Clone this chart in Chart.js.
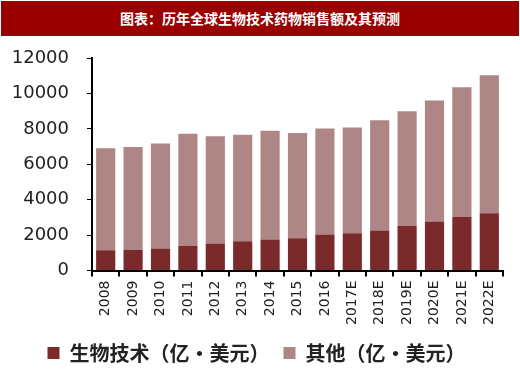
<!DOCTYPE html>
<html>
<head>
<meta charset="utf-8">
<script src="https://cdn.jsdelivr.net/npm/chart.js@4"></script>
<style>
  body { margin: 0; background: #fff; }
  .wrap { width: 520px; height: 375px; position: relative; }
  .title {
    position: absolute; left: 1px; top: 1px; width: 518px; height: 35px;
    background: #9a0000; color: #fff; text-align: center;
    font: bold 14px "Noto Sans CJK SC", sans-serif; line-height: 35px;
  }
  .box { position: absolute; left: 0; top: 36px; width: 520px; height: 339px; }
</style>
</head>
<body>
<div class="wrap">
  <div class="title">图表：历年全球生物技术药物销售额及其预测</div>
  <div class="box"><canvas id="bar"></canvas></div>
</div>
<script>
// years and values (亿美元)
const years = ['2008', '2009', '2010', '2011', '2012', '2013', '2014', '2015', '2016',
    '2017E', '2018E', '2019E', '2020E', '2021E', '2022E'];
const biotech = [1150, 1160, 1250, 1400, 1520, 1650, 1750, 1820, 2030, 2100, 2260, 2520, 2770, 3030, 3230];
const others = [5750, 5820, 5920, 6320, 6060, 6010, 6140, 5950, 5990, 5980, 6220, 6470, 6830, 7320, 7800];
const yTicks = [0, 2000, 4000, 6000, 8000, 10000, 12000];

const ctx = document.getElementById('bar');
new Chart(ctx, {
    type: 'bar',
    data: {
        labels: years,
        datasets: [{
            label: '生物技术（亿·美元）',
            data: biotech,
            backgroundColor: '#7a2a2b',
            barPercentage: 0.7,
            categoryPercentage: 1
        }, {
            label: '其他（亿·美元）',
            data: others,
            backgroundColor: '#ad8685',
            barPercentage: 0.7,
            categoryPercentage: 1
        }]
    },
    options: {
        responsive: true,
        maintainAspectRatio: false,
        animation: false,
        layout: { padding: { left: 10, right: 17, top: 2, bottom: 2 } },
        plugins: {
            tooltip: { enabled: false },
            legend: {
                position: 'bottom',
                labels: {
                    boxWidth: 12,
                    boxHeight: 12,
                    padding: 14,
                    color: '#222',
                    font: { family: '"Noto Sans CJK SC"', size: 20, weight: 'bold' }
                }
            }
        },
        scales: {
            x: {
                stacked: true,
                border: { color: '#000', width: 2 },
                grid: { drawOnChartArea: false, drawTicks: true, tickLength: 6, color: '#000', lineWidth: 2 },
                ticks: {
                    minRotation: 90, maxRotation: 90, padding: 4,
                    color: '#222',
                    font: { family: '"DejaVu Sans"', size: 14 }
                }
            },
            y: {
                stacked: true,
                min: 0,
                max: 12000,
                afterBuildTicks: (axis) => { axis.ticks = yTicks.map(v => ({ value: v })); },
                afterFit: (axis) => { axis.width = 82; axis.paddingTop = 22; },
                border: { color: '#000', width: 2 },
                grid: { drawOnChartArea: false, drawTicks: true, tickLength: 5, color: '#000', lineWidth: 1 },
                ticks: {
                    padding: 18,
                    color: '#222',
                    font: { family: '"DejaVu Sans"', size: 18 },
                    callback: (v) => String(v)
                }
            }
        }
    }
});
</script>
</body>
</html>
